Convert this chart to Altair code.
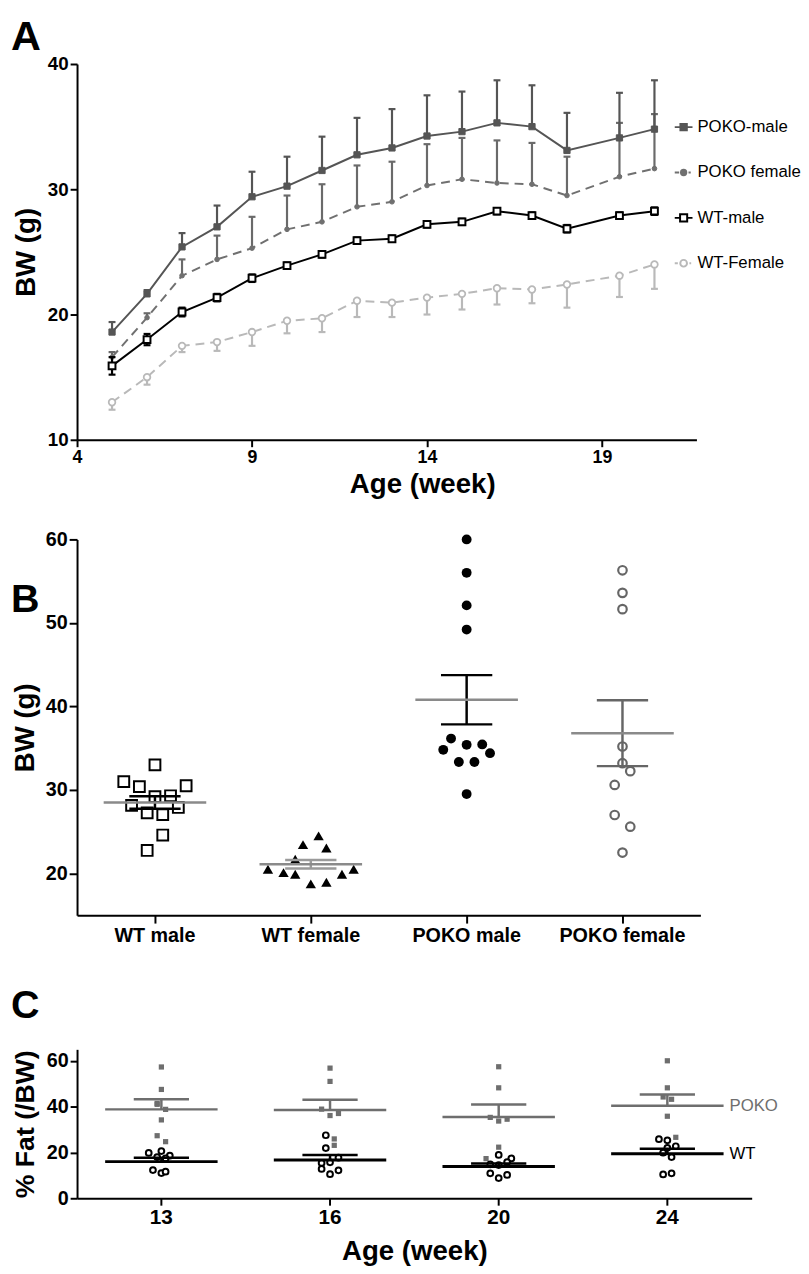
import altair as alt
import pandas as pd

FONT = "Liberation Sans"

# ---------------- Panel A data ----------------
weeks = [5, 6, 7, 8, 9, 10, 11, 12, 13, 14, 15, 16, 17, 18, 19.5, 20.5]
poko_male = [18.6, 21.65, 25.4, 27.0, 29.4, 30.25, 31.5, 32.75, 33.3, 34.25, 34.6, 35.3, 35.0, 33.1, 34.1, 34.8]
poko_male_upper = [19.4, 21.95, 26.5, 28.7, 31.4, 32.6, 34.2, 35.7, 36.4, 37.5, 37.8, 38.7, 38.3, 36.1, 37.7, 38.7]
poko_female = [16.6, 19.75, 23.1, 24.4, 25.3, 26.8, 27.4, 28.6, 29.0, 30.3, 30.8, 30.5, 30.4, 29.5, 31.0, 31.65]
poko_female_upper = [17.0, 20.1, 24.4, 26.3, 27.8, 29.5, 30.4, 31.9, 32.2, 33.6, 34.1, 33.9, 33.7, 32.6, 35.3, 36.0]
wt_male = [15.9, 18.0, 20.2, 21.35, 22.9, 23.9, 24.8, 25.9, 26.05, 27.2, 27.4, 28.25, 27.9, 26.85, 27.9, 28.25]
wt_male_sem = [0.7, 0.45, 0.35, 0.3, 0.3, 0.25, 0.25, 0.25, 0.25, 0.25, 0.25, 0.25, 0.25, 0.3, 0.25, 0.3]
wt_female = [13.0, 15.0, 17.5, 17.8, 18.6, 19.5, 19.7, 21.1, 20.95, 21.35, 21.65, 22.1, 22.0, 22.4, 23.1, 24.0]
wt_female_lower = [12.4, 14.4, 17.0, 17.1, 17.5, 18.5, 18.6, 19.8, 19.8, 20.0, 20.4, 20.8, 20.9, 20.55, 21.4, 22.05]
series_names = ["POKO-male", "POKO female", "WT-male", "WT-Female"]

# ---------------- Panel B data ----------------
b_groups = ["WT male", "WT female", "POKO male", "POKO female"]
wt_male_bw = [33.0, 31.0, 30.4, 30.5, 29.2, 29.3, 28.15, 27.9, 27.25, 27.05, 24.6, 22.75]
wt_male_jit = [0, -8, -4, 8, 0, 4, -6, 6, -2, 2, 2, -2]
wt_female_bw = [24.5, 23.45, 23.05, 21.7, 20.5, 20.1, 19.9, 19.9, 20.5, 18.75, 18.95]
wt_female_jit = [2, -2, 4, -4, -11, -7, -4, 8, 11, 0, 4]
poko_male_bw = [60.0, 56.0, 52.1, 49.2, 36.15, 34.8, 35.4, 35.45, 34.4, 33.35, 33.35, 29.5]
poko_male_jit = [0, 0, 0, 0, -4, -6, 0, 4, 6, -2, 2, 0]
poko_female_bw = [56.3, 53.6, 51.65, 35.2, 33.2, 32.25, 30.6, 27.0, 25.6, 22.5]
poko_female_jit = [0, 0, 0, 0, 0, 2, -2, -2, 2, 0]
b_means = [28.5, 21.1, 40.8, 36.8]
b_sems = [0.75, 0.5, 2.95, 3.95]

# ---------------- Panel C data ----------------
c_ages = ["13", "16", "20", "24"]
c_poko = [
    [57.3, 47.5, 41.4, 41.0, 38.8, 34.2, 27.3, 24.7],
    [56.8, 51.0, 38.9, 36.1, 37.0, 25.9, 23.1],
    [57.4, 48.2, 35.3, 33.7, 34.5, 22.3, 17.3],
    [60.0, 48.2, 44.2, 43.2, 35.8, 26.6],
]
c_poko_jit = [
    [0, 0, -1, -1, 1, 0, -1, 1],
    [0, 0, -2, 0, 2, 1, 1],
    [0, 0, -2, 0, 2, 0, -3],
    [0, 0, -1, 1, 0, 2],
]
c_wt = [
    [19.8, 20.6, 18.6, 18.0, 17.4, 12.3, 11.0, 11.6],
    [27.5, 21.9, 17.7, 15.7, 15.4, 12.8, 12.2, 10.5],
    [18.9, 17.4, 15.8, 14.8, 14.5, 10.9, 10.2, 8.8],
    [25.8, 25.3, 22.7, 22.0, 19.9, 18.0, 10.4, 10.9],
]
c_wt_jit = [
    [-3, 0, 2, -1, 1, -2, 0, 1],
    [-1, -1, 2, 0, -2, -2, 2, 0],
    [0, 3, 2, -2, 0, -2, 2, 0],
    [-2, 0, 2, 0, -1, 1, -1, 1],
]
c_poko_mean = [38.8, 38.5, 35.5, 40.4]
c_poko_sem = [4.4, 4.5, 5.4, 4.9]
c_wt_mean = [16.0, 16.7, 13.9, 19.4]
c_wt_sem = [1.7, 2.2, 1.3, 2.2]
c_group_labels = ["POKO", "WT"]


def axis(**kw):
    base = dict(grid=False, domainColor="black", domainWidth=2, tickColor="black", tickWidth=2,
                labelColor="black", labelFont=FONT, labelFontWeight="bold", labelFlush=False,
                labelOverlap=False, titleColor="black", titleFont=FONT, titleFontWeight="bold")
    base.update(kw)
    return alt.Axis(**base)


def panel_title(letter, size, **kw):
    return alt.TitleParams(letter, anchor="start", frame="group", fontSize=size, fontWeight="bold",
                           font=FONT, color="black", baseline="top", dx=-67, **kw)


# ================= Panel A =================
xa_scale = alt.Scale(domain=[4, 21.7], nice=False, zero=False)
ya_scale = alt.Scale(domain=[10, 40], nice=False, zero=False)
axis_xa = axis(values=[4, 9, 14, 19], tickSize=7, labelFontSize=18, labelPadding=2,
               titleFontSize=28, titlePadding=4, titleX=350)
axis_ya = axis(values=[10, 20, 30, 40], tickSize=7, labelFontSize=19, labelPadding=2,
               titleFontSize=28, titlePadding=7)


def XA(field):
    return alt.X(field, type="quantitative", scale=xa_scale, axis=axis_xa, title="Age (week)")


def YA(field):
    return alt.Y(field, type="quantitative", scale=ya_scale, axis=axis_ya, title="BW (g)")


def growth_layers(values, lower, upper, caps, color, err_color, dash, shape, size, fill, msw):
    df = pd.DataFrame({"week": weeks, "bw": values, "lower": lower, "upper": upper})
    base = alt.Chart(df)
    layers = [base.mark_rule(color=err_color, strokeWidth=2.2).encode(
        x=XA("week"), y=YA("lower"), y2="upper")]
    for c in caps:
        layers.append(base.mark_tick(orient="horizontal", color=err_color, size=7,
                                     thickness=2.2, opacity=1).encode(x=XA("week"), y=YA(c)))
    line_kw = dict(color=color, strokeWidth=2)
    if dash:
        line_kw["strokeDash"] = dash
    layers.append(base.mark_line(**line_kw).encode(x=XA("week"), y=YA("bw")))
    layers.append(base.mark_point(shape=shape, size=size, fill=fill, stroke=color,
                                  strokeWidth=msw, opacity=1).encode(x=XA("week"), y=YA("bw")))
    return layers


layers_a = []
layers_a += growth_layers(wt_female, wt_female_lower, wt_female, ["lower"], "#b9b9b9", "#b9b9b9",
                          [9, 6], "circle", 45, "white", 1.8)
layers_a += growth_layers(poko_female, poko_female, poko_female_upper, ["upper"], "#707070", "#6a6a6a",
                          [9, 6], "circle", 22, "#707070", 1)
layers_a += growth_layers(wt_male, [v - s for v, s in zip(wt_male, wt_male_sem)],
                          [v + s for v, s in zip(wt_male, wt_male_sem)], ["lower", "upper"],
                          "black", "black", None, "square", 48, "white", 2)
layers_a += growth_layers(poko_male, poko_male, poko_male_upper, ["upper"], "#555555", "#555555",
                          None, "square", 40, "#555555", 1)

legend_paths = [
    "M-1,0H1M-0.36,-0.36H0.36V0.36H-0.36Z",
    "M-1,0H-0.5M0.55,0H0.8M0.3,0A0.3,0.3,0,1,1,-0.3,0A0.3,0.3,0,1,1,0.3,0Z",
    "M-1,0H-0.4M0.4,0H1M-0.4,-0.4H0.4V0.4H-0.4Z",
    "M-1,0H-0.65M0.65,0H0.85M0.38,0A0.38,0.38,0,1,1,-0.38,0A0.38,0.38,0,1,1,0.38,0Z",
]
legend_strokes = ["#555555", "#707070", "black", "#b9b9b9"]
legend_fills = ["#555555", "#707070", "white", "white"]
leg = alt.Legend(orient="none", legendX=605, legendY=54, title=None, symbolSize=324,
                 symbolStrokeWidth=2, labelFont=FONT, labelFontSize=17, labelColor="black",
                 rowPadding=28, labelOffset=4)
legend_layer = alt.Chart(pd.DataFrame({"series": series_names})).transform_filter("false").mark_point(
    opacity=1, strokeWidth=2).encode(
    shape=alt.Shape("series:N", scale=alt.Scale(domain=series_names, range=legend_paths), legend=leg),
    stroke=alt.Stroke("series:N", scale=alt.Scale(domain=series_names, range=legend_strokes), legend=leg),
    fill=alt.Fill("series:N", scale=alt.Scale(domain=series_names, range=legend_fills), legend=leg),
)

chart_a = alt.layer(*layers_a, legend_layer).properties(
    width=628, height=381, title=panel_title("A", 42, offset=-4))

# ================= Panel B =================
xb_scale = alt.Scale(type="band", domain=b_groups, paddingInner=0, paddingOuter=0)
yb_scale = alt.Scale(domain=[15, 60], nice=False, zero=False)
axis_xb = axis(tickSize=8, labelFontSize=20, labelPadding=3, labelAngle=0,
               titleFontSize=9, titlePadding=0)
axis_yb = axis(values=[20, 30, 40, 50, 60], tickSize=8, labelFontSize=20, labelPadding=2,
               titleFontSize=28, titlePadding=6)
off_b = alt.XOffset("jit:Q", scale=alt.Scale(domain=[-20, 20]))


def XB():
    return alt.X("group:N", scale=xb_scale, axis=axis_xb, title=" ")


def YB(field):
    return alt.Y(field, type="quantitative", scale=yb_scale, axis=axis_yb, title="BW (g)")


def b_points(g, vals, jit, **mark):
    df = pd.DataFrame({"group": g, "bw": vals, "jit": jit})
    return alt.Chart(df).mark_point(opacity=1, **mark).encode(x=XB(), xOffset=off_b, y=YB("bw"))


pts_b = [
    b_points("WT male", wt_male_bw, wt_male_jit, shape="square", size=120, fill="white",
             stroke="black", strokeWidth=2),
    b_points("WT female", wt_female_bw, wt_female_jit, shape="triangle-up", size=110,
             fill="black", strokeWidth=0),
    b_points("POKO male", poko_male_bw, poko_male_jit, shape="circle", size=100,
             fill="black", strokeWidth=0),
    b_points("POKO female", poko_female_bw, poko_female_jit, shape="circle", size=75,
             fill="white", stroke="#666666", strokeWidth=2.2),
]
df_bs = pd.DataFrame({"group": b_groups, "mean": b_means, "sem": b_sems})
df_bs["lo"] = df_bs["mean"] - df_bs["sem"]
df_bs["hi"] = df_bs["mean"] + df_bs["sem"]
sem_color = alt.Color("group:N", scale=alt.Scale(domain=b_groups,
                      range=["black", "#9a9a9a", "black", "#666666"]), legend=None)
base_bs = alt.Chart(df_bs)
sum_b = [
    base_bs.mark_rule(strokeWidth=2.5).encode(x=XB(), y=YB("lo"), y2="hi", color=sem_color),
    base_bs.mark_tick(orient="horizontal", size=52, thickness=2.5, opacity=1).encode(
        x=XB(), y=YB("lo"), color=sem_color),
    base_bs.mark_tick(orient="horizontal", size=52, thickness=2.5, opacity=1).encode(
        x=XB(), y=YB("hi"), color=sem_color),
    base_bs.mark_tick(orient="horizontal", size=104, thickness=2.5, opacity=1,
                      color="#8a8a8a").encode(x=XB(), y=YB("mean")),
]
chart_b = alt.layer(*pts_b, *sum_b).properties(
    width=632, height=381, title=panel_title("B", 40, offset=0, dy=92))

# ================= Panel C =================
xc_scale = alt.Scale(type="band", domain=c_ages, paddingInner=0, paddingOuter=0)
yc_scale = alt.Scale(domain=[0, 65], nice=False, zero=False)
axis_xc = axis(tickSize=7, labelFontSize=21, labelPadding=2, labelAngle=0, titleFontSize=28,
               titlePadding=10)
axis_yc = axis(values=[0, 20, 40, 60], tickSize=7, labelFontSize=20, labelPadding=2,
               titleFontSize=27, titlePadding=7)
off_c = alt.XOffset("jit:Q", scale=alt.Scale(domain=[-20, 20]))


def XC():
    return alt.X("age:N", scale=xc_scale, axis=axis_xc, title="Age (week)")


def YC(field):
    return alt.Y(field, type="quantitative", scale=yc_scale, axis=axis_yc, title="% Fat (/BW)")


def long_points(vals_list, jit_list):
    rows = []
    for age, vals, jits in zip(c_ages, vals_list, jit_list):
        for v, j in zip(vals, jits):
            rows.append({"age": age, "fat": v, "jit": j})
    return pd.DataFrame(rows)


pts_c = [
    alt.Chart(long_points(c_poko, c_poko_jit)).mark_point(
        shape="square", size=28, fill="#6e6e6e", strokeWidth=0, opacity=1).encode(
        x=XC(), xOffset=off_c, y=YC("fat")),
    alt.Chart(long_points(c_wt, c_wt_jit)).mark_point(
        shape="circle", size=34, fill="white", stroke="black", strokeWidth=2, opacity=1).encode(
        x=XC(), xOffset=off_c, y=YC("fat")),
]


def c_summary(means, sems, color, mean_w):
    df = pd.DataFrame({"age": c_ages, "mean": means, "sem": sems})
    df["hi"] = df["mean"] + df["sem"]
    base = alt.Chart(df)
    return [
        base.mark_rule(color=color, strokeWidth=2.5).encode(x=XC(), y=YC("mean"), y2="hi"),
        base.mark_tick(orient="horizontal", size=56, thickness=2.5, color=color, opacity=1).encode(
            x=XC(), y=YC("hi")),
        base.mark_tick(orient="horizontal", size=114, thickness=mean_w, color=color, opacity=1).encode(
            x=XC(), y=YC("mean")),
    ]


sum_c = c_summary(c_poko_mean, c_poko_sem, "#6e6e6e", 2.5) + c_summary(c_wt_mean, c_wt_sem, "black", 3)
df_lab = pd.DataFrame({"age": [c_ages[-1]] * 2, "mean": [c_poko_mean[-1], c_wt_mean[-1]],
                       "label": c_group_labels})
labels_c = alt.Chart(df_lab).mark_text(align="left", baseline="middle", dx=63, fontSize=17,
                                        font=FONT).encode(
    x=XC(), y=YC("mean"), text="label:N",
    color=alt.Color("label:N", scale=alt.Scale(domain=c_group_labels, range=["#6e6e6e", "black"]),
                    legend=None))

chart_c = alt.layer(*pts_c, *sum_c, labels_c).properties(
    width=684, height=151, title=panel_title("C", 40, offset=24))

chart = alt.vconcat(chart_a, chart_b, chart_c, spacing=32).resolve_scale(
    x="independent", y="independent", color="independent", xOffset="independent",
    shape="independent", stroke="independent", fill="independent"
).properties(padding={"left": 3, "top": 0, "right": 0, "bottom": 0}).configure(
    font=FONT).configure_view(stroke=None)

chart.save("out.html", embed_options={"renderer": "svg", "actions": False})
